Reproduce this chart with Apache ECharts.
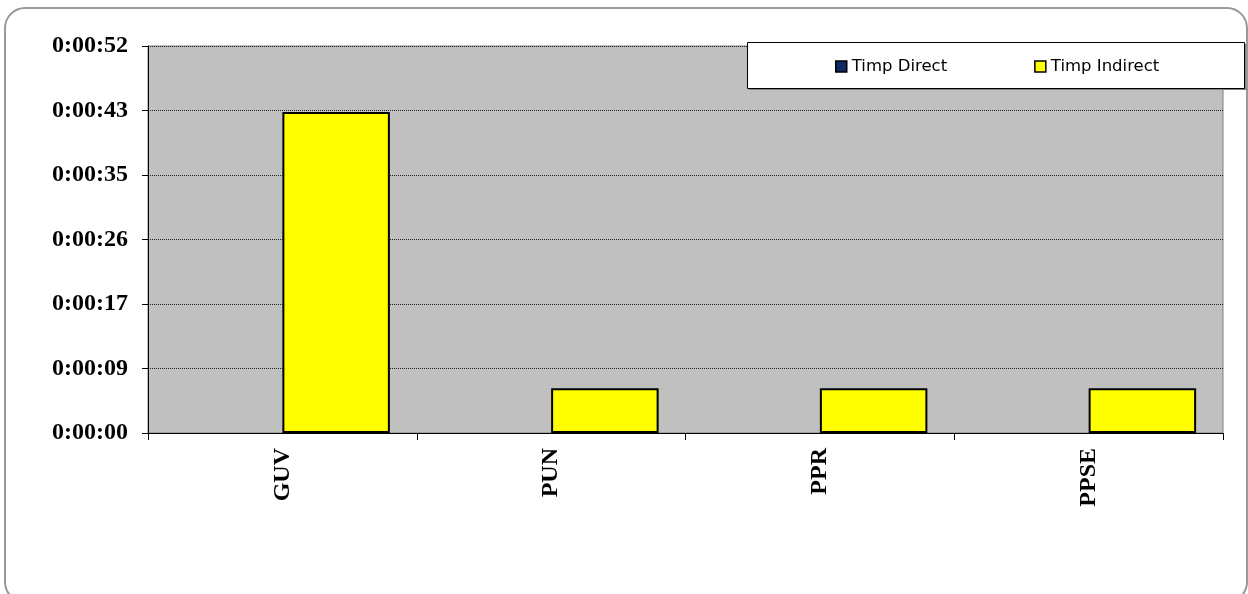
<!DOCTYPE html>
<html>
<head>
<meta charset="utf-8">
<script src="https://cdn.jsdelivr.net/npm/echarts@6/dist/echarts.min.js"></script>
<style>
html,body{margin:0;padding:0;background:#fff;}
#chart{width:1248px;height:594px;}
</style>
</head>
<body>
<div id="chart"></div>
<script>
// categorii si valori (secunde)
var categorii = ['GUV', 'PUN', 'PPR', 'PPSE'];
var timpDirect = [0, 0, 0, 0];
var timpIndirect = [43, 6, 6, 6];
// pas axa = 0.0001 zile = 8.64 s
var pasAxa = 8.64;
var maxAxa = 51.84;

// secunde -> h:mm:ss
function formatTimp(v){
	var s = Math.round(v);
	var h = Math.floor(s/3600);
	var m = Math.floor((s%3600)/60);
	var sec = s%60;
	return h + ':' + (m<10?'0':'') + m + ':' + (sec<10?'0':'') + sec;
}

var myChart = echarts.init(document.getElementById('chart'));

var option = {
	animation: false,
	graphic: [{
		type: 'rect',
		shape: {x: 5, y: 8, width: 1242, height: 594, r: 20},
		style: {fill: 'none', stroke: '#999', lineWidth: 2},
		z: 0
	}, {
		type: 'rect',
		shape: {x: 749, y: 44, width: 497, height: 46},
		style: {fill: '#808080'},
		z: 10
	}, {
		type: 'rect',
		shape: {x: 747.5, y: 42.5, width: 497, height: 46},
		style: {fill: '#fff', stroke: '#000', lineWidth: 1},
		z: 11
	}],
	legend: {
		left: 835,
		top: 58,
		padding: 0,
		itemWidth: 11,
		itemHeight: 11,
		itemGap: 87,
		icon: 'rect',
		z: 12,
		textStyle: {fontFamily: 'DejaVu Sans', fontSize: 16.5, color: '#000'},
		itemStyle: {borderColor: '#000', borderWidth: 1.5},
		data: ['Timp Direct', 'Timp Indirect']
	},
	grid: {
		left: 148, right: 25, top: 46, bottom: 161,
		show: true, backgroundColor: '#c0c0c0', borderColor: '#808080', borderWidth: 1
	},
	xAxis: {
		type: 'category',
		data: categorii,
		axisLine: {lineStyle: {color: '#000', width: 1}},
		axisTick: {show: true, length: 7, lineStyle: {color: '#000'}},
		axisLabel: {rotate: 90, margin: 15, fontFamily: 'Liberation Serif', fontWeight: 'bold', fontSize: 24, color: '#000'}
	},
	yAxis: {
		type: 'value',
		min: 0,
		max: maxAxa,
		interval: pasAxa,
		axisLine: {show: true, lineStyle: {color: '#000', width: 1}},
		axisTick: {show: true, length: 6, lineStyle: {color: '#000'}},
		axisLabel: {margin: 20, formatter: formatTimp, fontFamily: 'Liberation Serif', fontWeight: 'bold', fontSize: 24, color: '#000'},
		splitLine: {show: true, lineStyle: {color: '#222', width: 1, type: [1, 1]}}
	},
	series: [{
		name: 'Timp Direct',
		type: 'bar',
		data: timpDirect,
		barGap: '0%',
		barCategoryGap: '20%',
		itemStyle: {color: '#0b2a66', borderColor: '#000', borderWidth: 0}
	}, {
		name: 'Timp Indirect',
		type: 'bar',
		data: timpIndirect,
		barGap: '0%',
		barCategoryGap: '20%',
		itemStyle: {color: '#ffff00', borderColor: '#000', borderWidth: 2}
	}]
};

myChart.setOption(option);
</script>
</body>
</html>
